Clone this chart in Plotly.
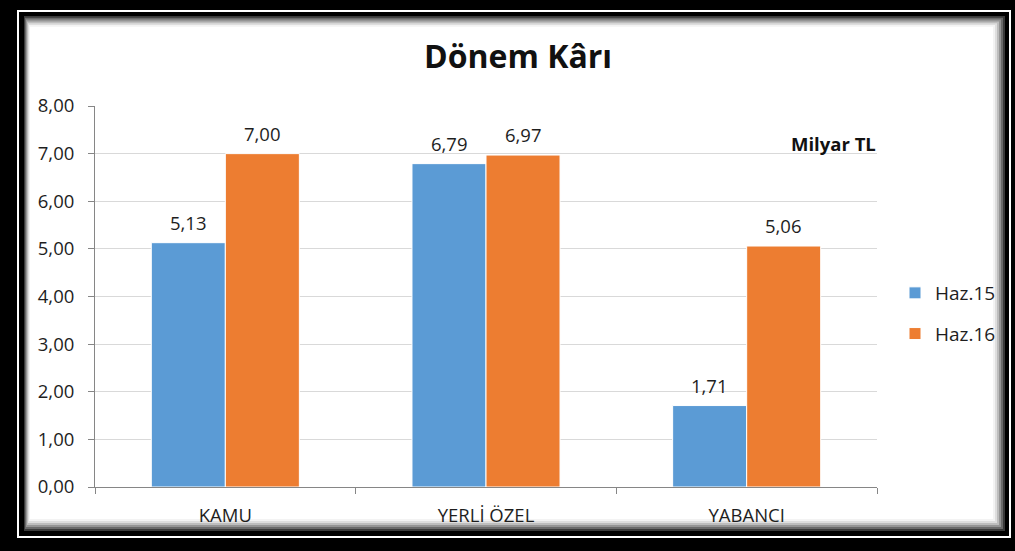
import plotly.graph_objects as go

categories = ["KAMU", "YERLİ ÖZEL", "YABANCI"]
haz15 = [5.13, 6.79, 1.71]
haz16 = [7.00, 6.97, 5.06]
series_names = ["Haz.15", "Haz.16"]
y_ticks = [0, 1, 2, 3, 4, 5, 6, 7, 8]

W, H = 1015, 551
L, R, T, B = 95, 138, 106, 64
PW, PH = W - L - R, H - T - B

def px(x):
    return (x - L) / PW

def py(y):
    return (H - B - y) / PH

FONT = "Open Sans"
TXT = "#1e1e1e"
COLORS = ["#5B9BD5", "#ED7D31"]
FS = 18.5

fig = go.Figure()
for name, vals, col, grp in [(series_names[0], haz15, COLORS[0], "a"),
                             (series_names[1], haz16, COLORS[1], "b")]:
    fig.add_trace(go.Bar(
        x=categories, y=vals, name=name, legendgroup=grp,
        marker=dict(color=col, line=dict(color="white", width=1)),
    ))

annotations = []
for vals, shift in [(haz15, -37), (haz16, 37)]:
    for c, v in zip(categories, vals):
        annotations.append(dict(x=c, y=v, xref="x", yref="y", text=f"{v:.2f}".replace(".", ","),
                                showarrow=False, xshift=shift, yanchor="bottom", yshift=6,
                                font=dict(size=FS, color=TXT, family=FONT)))
annotations.append(dict(text="<b>Milyar TL</b>", x=px(878), y=py(143), xref="paper", yref="paper",
                        xanchor="right", yanchor="middle", showarrow=False,
                        font=dict(size=FS, color="#111111", family=FONT)))

shapes = []
shapes.append(dict(type="rect", xref="paper", yref="paper",
                   x0=px(18), x1=px(1010), y0=py(11), y1=py(537),
                   line=dict(color="white", width=2), fillcolor="rgba(0,0,0,0)", layer="below"))
steps = [("#3a3a3a", 0), ("#6a6a6a", 2), ("#959595", 4), ("#bdbdbd", 6), ("#dedede", 8), ("#f3f3f3", 10), ("#ffffff", 12)]
for col, d in steps:
    shapes.append(dict(type="rect", xref="paper", yref="paper",
                       x0=px(24 + d * 0.5), x1=px(1005 - d), y0=py(16 + d * 0.9), y1=py(531 - d),
                       line=dict(width=0), fillcolor=col, layer="below"))

fig.update_layout(
    width=W, height=H,
    margin=dict(l=L, r=R, t=T, b=B, pad=0),
    paper_bgcolor="black", plot_bgcolor="rgba(0,0,0,0)",
    separators=", ",
    barmode="group", bargap=0.432, bargroupgap=0.0,
    font=dict(family=FONT, size=FS, color=TXT),
    title=dict(text="<b>Dönem Kârı</b>", x=px(518), xref="paper", xanchor="center",
               y=1 - 57 / H, yanchor="middle", font=dict(size=32, color="#111111", family=FONT)),
    shapes=shapes,
    annotations=annotations,
    legend=dict(x=px(895), y=py(274), xanchor="left", yanchor="top",
                font=dict(size=19, color=TXT, family=FONT), bgcolor="rgba(0,0,0,0)",
                tracegroupgap=13, itemwidth=30),
)
fig.update_yaxes(range=[0, 8], tickvals=y_ticks, tickformat=".2f",
                 showgrid=True, gridcolor="#d9d9d9", gridwidth=1,
                 showline=True, linecolor="#868686", linewidth=1,
                 ticks="outside", ticklen=6, tickcolor="#868686",
                 ticklabelstandoff=10,
                 tickfont=dict(size=FS, color=TXT), zeroline=False)
fig.update_xaxes(showline=True, linecolor="#868686", linewidth=1,
                 ticks="outside", tickson="boundaries", ticklen=6, tickcolor="#868686",
                 ticklabelstandoff=12,
                 tickfont=dict(size=FS, color=TXT), showgrid=False)

fig.write_html("out.html", config={"displayModeBar": False},
               post_script="document.body.style.margin='0';document.body.style.overflow='hidden';")
